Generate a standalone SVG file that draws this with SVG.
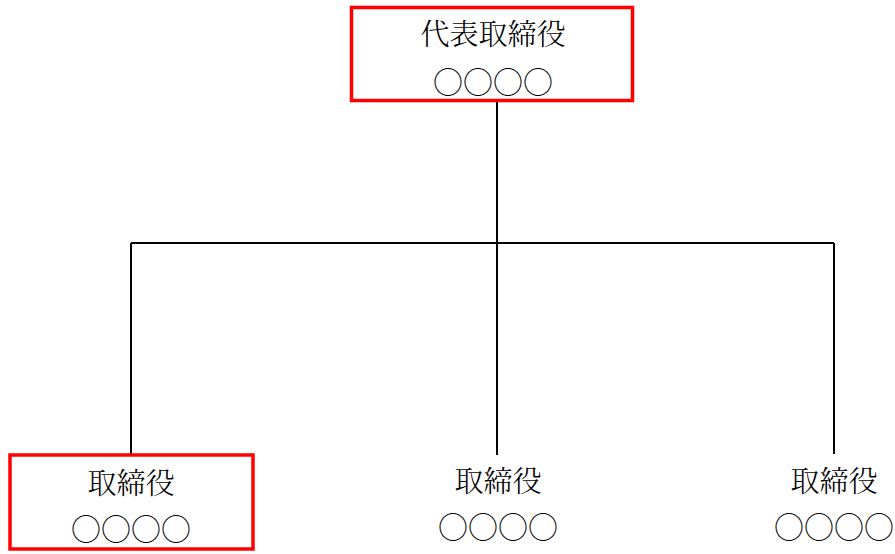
<svg xmlns="http://www.w3.org/2000/svg" width="895" height="554" viewBox="0 0 895 554">
<style>
.box{fill:#fff;stroke:#ff0000;stroke-width:3.5}
.t{font-family:"Noto Serif CJK JP","Noto Sans CJK JP",serif;font-size:29px;font-weight:300;fill:#000;text-anchor:middle}
.c{font-family:"Noto Sans CJK JP",sans-serif;font-size:30px;font-weight:300;fill:#000;text-anchor:middle}
.ln{fill:none;stroke:#000;stroke-width:2}
</style>
<rect width="895" height="554" fill="#fff"/>
<g id="connectors">
<path class="ln" d="M497,101 V243 M131,243 H834 M131,243 V455 M497,243 V455 M834,243 V454"/>
</g>
<g id="ceo">
<rect class="box" x="351.5" y="7.5" width="281" height="93"/>
<text class="t" x="493" y="45">代表取締役</text>
<text class="c" x="493" y="93">○○○○</text>
</g>
<g id="director1">
<rect class="box" x="10" y="455" width="243" height="94"/>
<text class="t" x="131" y="494">取締役</text>
<text class="c" x="131" y="540">○○○○</text>
</g>
<g id="director2">
<text class="t" x="498" y="492">取締役</text>
<text class="c" x="498" y="538">○○○○</text>
</g>
<g id="director3">
<text class="t" x="834" y="492">取締役</text>
<text class="c" x="834" y="538">○○○○</text>
</g>
</svg>
